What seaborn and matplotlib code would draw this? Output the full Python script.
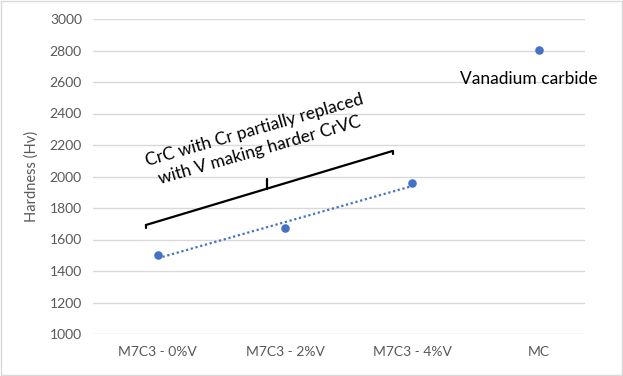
import numpy as np
import pandas as pd
import matplotlib
matplotlib.use("Agg")
import matplotlib.pyplot as plt
import seaborn as sns

# ---- data ----
categories = ["M7C3 - 0%V", "M7C3 - 2%V", "M7C3 - 4%V", "MC"]
hardness = [1500, 1673, 1958, 2803]
trend_idx = [0, 1, 2]  # trendline over the M7C3 series
y_ticks = list(range(1000, 3001, 200))

df = pd.DataFrame({"pos": np.arange(len(categories)), "Hardness": hardness})

sns.set_theme(style="white")
plt.rcParams["font.family"] = ["Lato", "DejaVu Sans"]

fig = plt.figure(figsize=(6.23, 3.76), dpi=100)
ax = fig.add_axes([93 / 623, 1 - 334 / 376, (585 - 93) / 623, (334 - 19) / 376])

blue = "#4472C4"
grid = "#D9D9D9"
gray = "#595959"

for yv in y_ticks:
    ax.axhline(yv, color=grid, lw=1, zorder=0)

sns.scatterplot(data=df, x="pos", y="Hardness", ax=ax, color=blue, s=38,
                edgecolor=blue, linewidth=0, zorder=3, legend=False)

# linear trendline over first three points
tx = df["pos"].values[trend_idx]
ty = df["Hardness"].values[trend_idx]
k, b = np.polyfit(tx, ty, 1)
xx = np.array([tx.min(), tx.max()])
ax.plot(xx, k * xx + b, color=blue, lw=1.6, ls=(0, (1, 1.2)), zorder=2)

ax.set_xlim(-0.51, 3.36)
ax.set_ylim(1000, 3000)
ax.set_yticks(y_ticks)
ax.set_xticks(df["pos"].values)
ax.set_xticklabels(categories)
ax.tick_params(axis="both", length=0, colors=gray, labelsize=10)
ax.tick_params(axis="x", pad=9)
ax.tick_params(axis="y", pad=8)
ax.set_xlabel("")
ax.set_ylabel("Hardness (Hv)", color=gray, fontsize=10.5, labelpad=8)
for s in ax.spines.values():
    s.set_visible(False)

# bracket annotation
bl = (-0.094, 1692)
br = (1.846, 2162)
ax.plot([bl[0], br[0]], [bl[1], br[1]], color="black", lw=1.6, zorder=2)
ax.plot([bl[0], bl[0]], [bl[1], bl[1] - 22], color="black", lw=1.6)
ax.plot([br[0], br[0]], [br[1], br[1] - 22], color="black", lw=1.6)
mx = 0.856
my = bl[1] + (br[1] - bl[1]) * (mx - bl[0]) / (br[0] - bl[0])
ax.plot([mx, mx], [my, my + 64], color="black", lw=1.6)

ax.text(0.78, 2230, "CrC with Cr partially replaced\nwith V making harder CrVC",
        rotation=16, rotation_mode="anchor", ha="center", va="center",
        fontsize=12.5, color="black", linespacing=1.35)

ax.text(2.92, 2620, "Vanadium carbide", ha="center", va="center",
        fontsize=12.5, color="black")

# chart border
fig.patches.append(plt.Rectangle((0.001, 0.002), 0.997, 0.995, transform=fig.transFigure,
                                 fill=False, edgecolor="#D9D9D9", lw=1))

fig.savefig("out.png", dpi=100)
